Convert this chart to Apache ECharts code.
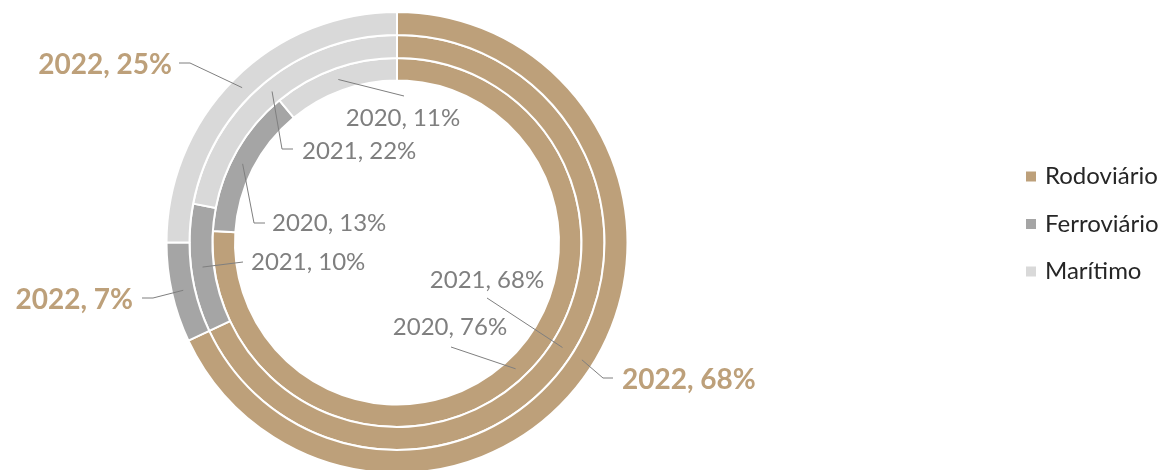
<!DOCTYPE html>
<html>
<head>
<meta charset="utf-8">
<title>Transporte por modal</title>
<script src="https://cdn.jsdelivr.net/npm/echarts@6/dist/echarts.min.js"></script>
<style>
  html, body { margin: 0; padding: 0; background: #ffffff; }
  #chart { width: 1167px; height: 470px; }
</style>
</head>
<body>
<div id="chart"></div>
<script>
// Modal shares per year (%), one ring per year
const categories = ['Rodoviário', 'Ferroviário', 'Marítimo'];
const years = ['2020', '2021', '2022'];
const share2020 = [76, 13, 11];
const share2021 = [68, 10, 22];
const share2022 = [68, 7, 25];
const shares = [share2020, share2021, share2022];

const colors = ['#BDA07A', '#A5A5A5', '#D9D9D9'];
const labelGrey = '#7F7F7F';
const FONT = 'Lato, "Open Sans", sans-serif';

// Ring geometry: inner ring = 2020, outer ring = 2022
const CX = 397, CY = 242.5;
const rings = [[162, 184.5], [184.5, 207.5], [207.5, 230.5]];

// Where each data label sits (text anchor) and the bend of its leader line
const labelPlacement = [
  [ // 2020
    { x: 450, y: 327, align: 'center', via: [], end: [451, 347] },
    { x: 272, y: 223, align: 'left', via: [[254, 223]], end: [265, 223] },
    { x: 403, y: 118, align: 'center', via: [], end: [404, 96] }
  ],
  [ // 2021
    { x: 487, y: 280, align: 'center', via: [], end: [487, 298] },
    { x: 251, y: 262, align: 'left', via: [], end: [243, 262] },
    { x: 302, y: 151, align: 'left', via: [[282, 149]], end: [293, 149] }
  ],
  [ // 2022
    { x: 622, y: 380, align: 'left', via: [[603, 378]], end: [613, 378] },
    { x: 133, y: 300, align: 'right', via: [[153, 298]], end: [142, 298] },
    { x: 172, y: 65, align: 'right', via: [[190, 63]], end: [179, 63] }
  ]
];

function makeLayout(ringIdx) {
  const ring = rings[ringIdx];
  const rMid = (ring[0] + ring[1]) / 2;
  return function (params) {
    const place = labelPlacement[ringIdx][params.dataIndex];
    // the default leader line starts on the slice's outer edge at its mid angle;
    // pull that point back to the middle of the ring
    const p0 = params.labelLinePoints[0];
    const ux = p0[0] - CX, uy = p0[1] - CY;
    const len = Math.hypot(ux, uy) || 1;
    const anchor = [CX + ux / len * rMid, CY + uy / len * rMid];
    return {
      x: place.x,
      y: place.y,
      align: place.align,
      verticalAlign: 'middle',
      width: 400,
      labelLinePoints: [anchor].concat(place.via, [place.end])
    };
  };
}

function ringData(si, transparent) {
  return categories.map(function (c, i) {
    return {
      name: c,
      value: shares[si][i],
      itemStyle: { color: transparent ? 'rgba(0,0,0,0)' : colors[i] }
    };
  });
}

// Coloured rings
const ringSeries = years.map(function (year, si) {
  return {
    name: year,
    type: 'pie',
    z: 2,
    center: [CX, CY],
    radius: rings[si],
    startAngle: 90,
    clockwise: true,
    silent: true,
    itemStyle: { borderColor: '#ffffff', borderWidth: 2 },
    label: { show: false },
    labelLine: { show: false },
    data: ringData(si, false)
  };
});

// Same slices, unpainted, carrying the data labels so their leader lines sit above the rings
const labelSeries = years.map(function (year, si) {
  const isLatest = si === years.length - 1;
  return {
    name: year + ' rótulos',
    type: 'pie',
    z: 3,
    center: [CX, CY],
    radius: rings[si],
    startAngle: 90,
    clockwise: true,
    avoidLabelOverlap: false,
    silent: true,
    legendHoverLink: false,
    itemStyle: { borderWidth: 0 },
    label: {
      show: true,
      position: 'outside',
      formatter: function (p) { return year + ', ' + p.value + '%'; },
      fontFamily: FONT,
      fontSize: isLatest ? 28 : 24,
      fontWeight: isLatest ? 'bold' : 'normal',
      color: isLatest ? colors[0] : labelGrey
    },
    labelLine: {
      show: true,
      smooth: false,
      lineStyle: { color: labelGrey, width: 1 }
    },
    labelLayout: makeLayout(si),
    data: ringData(si, true)
  };
});

const chart = echarts.init(document.getElementById('chart'), null, { renderer: 'canvas' });
chart.setOption({
  animation: false,
  backgroundColor: '#ffffff',
  color: colors,
  legend: {
    data: categories,
    orient: 'vertical',
    left: 1024,
    top: 164.5,
    padding: 0,
    icon: 'rect',
    itemWidth: 12,
    itemHeight: 12,
    itemGap: 23.5,
    selectedMode: false,
    textStyle: {
      fontFamily: FONT,
      fontSize: 24,
      lineHeight: 24,
      color: '#262626',
      padding: [0, 0, 0, 3]
    }
  },
  series: ringSeries.concat(labelSeries)
});
</script>
</body>
</html>
